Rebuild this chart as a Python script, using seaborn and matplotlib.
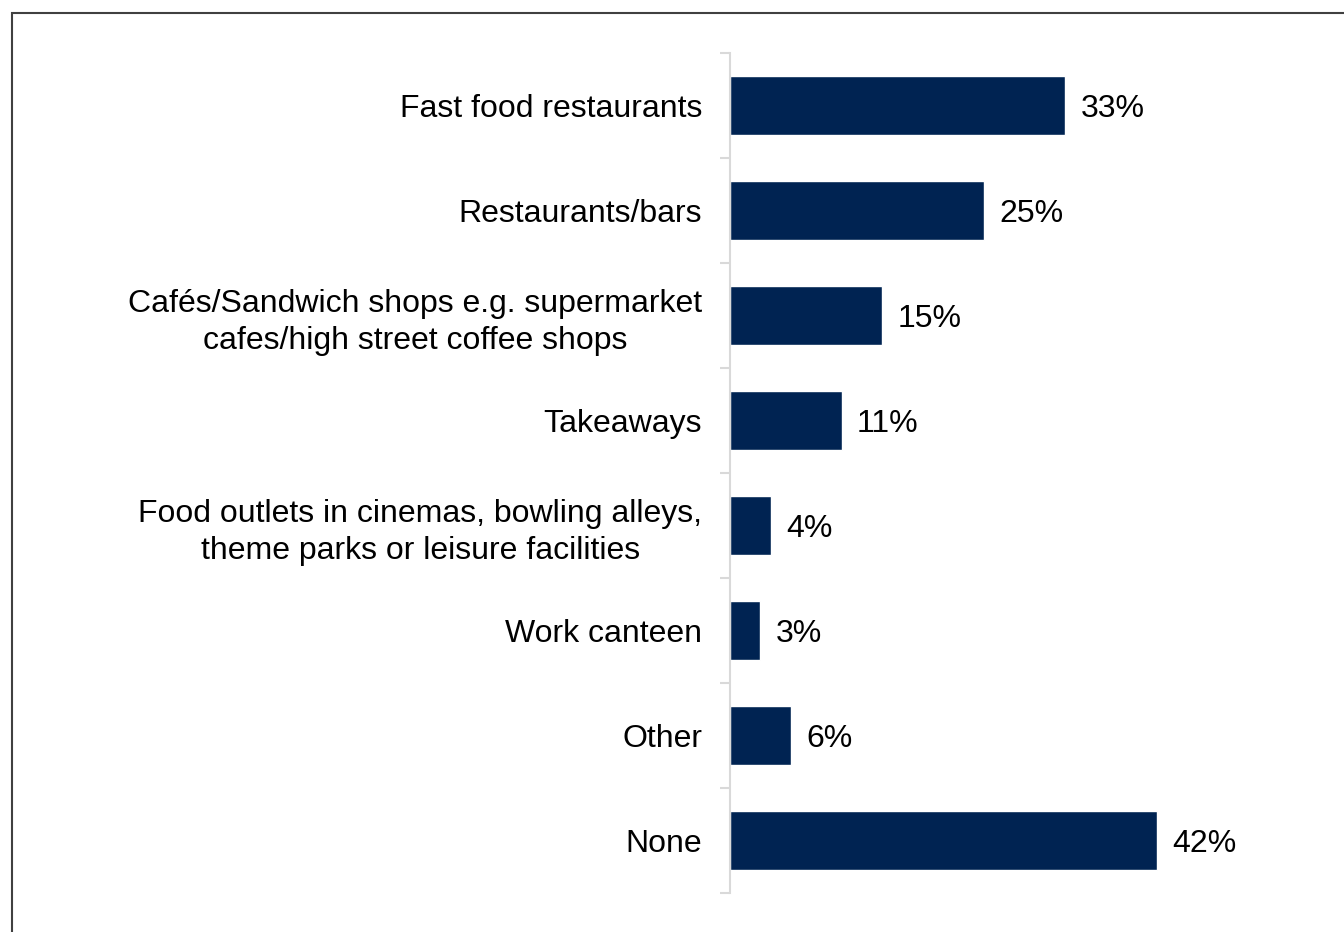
import matplotlib
matplotlib.use("Agg")
import matplotlib.pyplot as plt
import seaborn as sns
import pandas as pd
from matplotlib.patches import Rectangle

categories = [
    "Fast food restaurants",
    "Restaurants/bars",
    "Cafés/Sandwich shops e.g. supermarket\ncafes/high street coffee shops",
    "Takeaways",
    "Food outlets in cinemas, bowling alleys,\ntheme parks or leisure facilities",
    "Work canteen",
    "Other",
    "None",
]
values = [33, 25, 15, 11, 4, 3, 6, 42]

df = pd.DataFrame({"category": categories, "value": values})

sns.set_theme(style="white")
plt.rcParams["font.family"] = ["Liberation Sans", "DejaVu Sans"]

W, H = 1344, 932
fig = plt.figure(figsize=(W / 100, H / 100), dpi=100)
ax = fig.add_axes([730 / W, 1 - 893 / H, 570 / W, 840 / H])

bar_color = "#002352"
sns.barplot(data=df, y="category", x="value", orient="h", color=bar_color,
            width=0.56, saturation=1, ax=ax)

ax.set_xlim(0, 56.1)
ax.set_ylim(len(categories) - 0.5, -0.5)
ax.set_xlabel("")
ax.set_ylabel("")
ax.set_xticks([])

for s in ["top", "right", "bottom"]:
    ax.spines[s].set_visible(False)
ax.spines["left"].set_color("#d9d9d9")
ax.spines["left"].set_linewidth(1.5)

# category labels (no tick marks) and boundary ticks between categories
ax.tick_params(axis="y", which="major", length=0, pad=20, labelsize=23, labelcolor="black")
for lbl in ax.get_yticklabels():
    lbl.set_multialignment("center")
    lbl.set_linespacing(1.3)
ax.set_yticks([i - 0.5 for i in range(len(categories) + 1)], minor=True)
ax.tick_params(axis="y", which="minor", length=7, width=1.5, color="#d9d9d9", left=True)

for i, v in enumerate(values):
    ax.text(v + 1.5, i, f"{v}%", va="center_baseline", ha="left", fontsize=23, color="black")

# outer frame of the chart area
fig.patches.append(Rectangle((12 / W, -0.1), 1.2, 1 - 13 / H + 0.1, transform=fig.transFigure,
                             fill=False, edgecolor="#404040", linewidth=1.5))

fig.savefig("out.png", dpi=100, facecolor="white")
